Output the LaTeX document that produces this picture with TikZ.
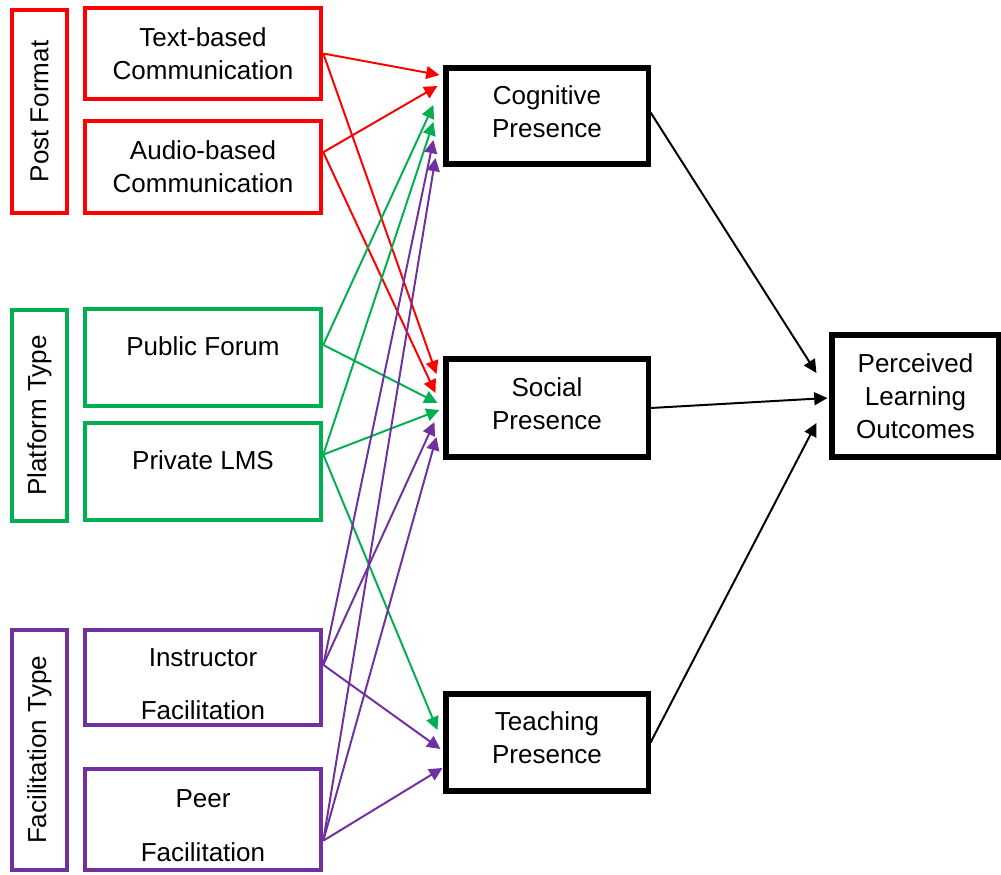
\documentclass[tikz,border=0pt]{standalone}
\usepackage{fontspec}
\setmainfont{Liberation Sans}
\usetikzlibrary{positioning, arrows.meta, calc}

\definecolor{pfred}{HTML}{FF0000}
\definecolor{ptgreen}{HTML}{00B050}
\definecolor{ftpurple}{HTML}{7030A0}

\begin{document}
\begin{tikzpicture}[x=0.025cm, y=-0.025cm,
    every node/.style={font=\fontsize{18.5}{23.5}\selectfont},
    grp/.style={rectangle, draw, line width=3.2pt, rotate=90, minimum height=1.375cm, align=center},
    src/.style={rectangle, draw, line width=3.2pt, minimum width=5.9cm, align=center},
    tgt/.style={rectangle, draw=black, line width=3.6pt, align=center},
    wide/.style={font=\fontsize{18.5}{38}\selectfont},
    high/.style={text height=0.5cm, text depth=0.6cm},
    arrow/.style={-{Triangle[length=0.33cm, width=0.32cm]}, line width=1.4pt}]

  \useasboundingbox (0,0) rectangle (1001,875);

  % factor groups
  \node[grp, draw=pfred, minimum width=5.075cm] (post) at (39.5,111.5) {Post Format};
  \node[grp, draw=ptgreen, minimum width=5.275cm] (plat) at (39.5,415.5) {Platform Type};
  \node[grp, draw=ftpurple, minimum width=6cm] (facil) at (39.5,750) {Facilitation Type};

  % factor levels
  \node[src, draw=pfred, minimum height=2.275cm] (txt) at (203,53.5) {Text-based\\Communication};
  \node[src, draw=pfred, minimum height=2.3cm] (aud) at (203,167) {Audio-based\\Communication};
  \node[src, high, draw=ptgreen, minimum height=2.425cm] (pub) at (203,357.5) {Public Forum};
  \node[src, high, draw=ptgreen, minimum height=2.425cm] (prv) at (203,471.5) {Private LMS};
  \node[src, wide, draw=ftpurple, minimum height=2.375cm] (ins) at (203,677.5) {\rule{0pt}{0.78cm}Instructor\\Facilitation};
  \node[src, wide, draw=ftpurple, minimum height=2.525cm] (peer) at (203,819.5) {\rule{0pt}{0.75cm}Peer\\Facilitation};

  % presences
  \node[tgt, minimum width=5.05cm, minimum height=2.4cm] (cog) at (547,116) {Cognitive\\Presence\\[-0.6cm]};
  \node[tgt, minimum width=5.05cm, minimum height=2.45cm] (soc) at (547,408) {Social\\Presence\\[-0.6cm]};
  \node[tgt, minimum width=5.05cm, minimum height=2.425cm] (tch) at (547,742.5) {Teaching\\Presence\\[-0.6cm]};
  \node[tgt, minimum width=4.175cm, minimum height=3.05cm] (plo) at (915.5,396) {Perceived\\Learning\\Outcomes};

  % post format
  \draw[arrow, pfred] (txt.east) -- ($(cog.west)+(-4,-41)$);
  \draw[arrow, pfred] (aud.7) -- ($(cog.west)+(-6,-30)$);
  \draw[arrow, pfred] (txt.east) -- ($(soc.west)+(-7,-34)$);
  \draw[arrow, pfred] (aud.7) -- ($(soc.west)+(-8,-15)$);

  % platform type
  \draw[arrow, ptgreen] (pub.6) -- ($(cog.west)+(-10,-11)$);
  \draw[arrow, ptgreen] (prv.8) -- ($(cog.west)+(-10,6)$);
  \draw[arrow, ptgreen] (pub.6) -- ($(soc.west)+(-6,-5)$);
  \draw[arrow, ptgreen] (prv.8) -- ($(soc.west)+(-4,2)$);
  \draw[arrow, ptgreen] (prv.8) -- ($(tch.west)+(-6,-12.5)$);

  % facilitation type
  \draw[arrow, ftpurple] (ins.6) -- ($(cog.west)+(-10,24)$);
  \draw[arrow, ftpurple] (peer.-10) -- ($(cog.west)+(-8,42)$);
  \draw[arrow, ftpurple] (ins.6) -- ($(soc.west)+(-9,14)$);
  \draw[arrow, ftpurple] (peer.-10) -- ($(soc.west)+(-7,29)$);
  \draw[arrow, ftpurple] (ins.6) -- ($(tch.west)+(-3,6.5)$);
  \draw[arrow, ftpurple] (peer.-10) -- ($(tch.west)+(-1,25.5)$);

  % outcomes
  \draw[arrow] (cog.2) -- ($(plo.west)+(-13,-23)$);
  \draw[arrow] (soc.east) -- ($(plo.west)+(-2,2)$);
  \draw[arrow] (tch.east) -- ($(plo.west)+(-13,27)$);
\end{tikzpicture}
\end{document}
